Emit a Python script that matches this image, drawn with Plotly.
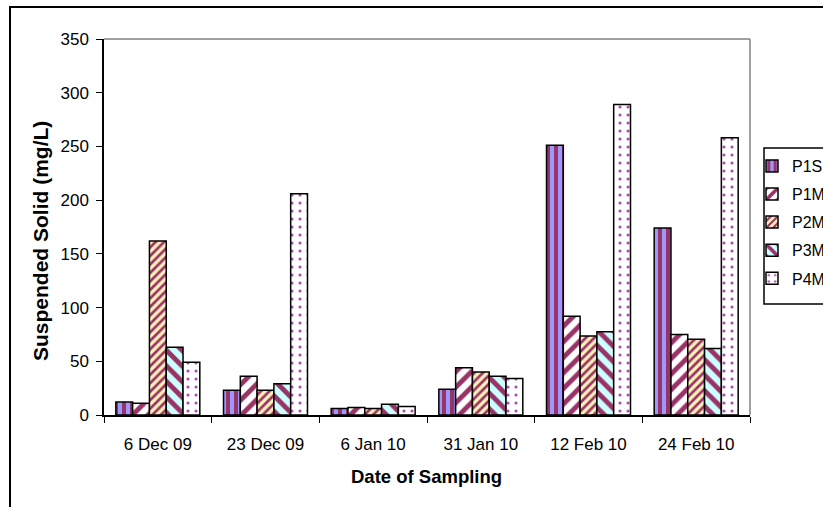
import plotly.graph_objects as go

# Sampling dates (categories) and suspended solid concentration per site (mg/L)
dates = ["6 Dec 09", "23 Dec 09", "6 Jan 10", "31 Jan 10", "12 Feb 10", "24 Feb 10"]
p1s = [12, 23, 6, 24, 251, 174]
p1m = [11, 36, 7, 44, 92, 75]
p2m = [162, 23, 6, 40, 73.5, 70.5]
p3m = [63, 29, 10, 36, 77.5, 62]
p4m = [49, 206, 8, 34, 289, 258]

series_names = ["P1S", "P1M", "P2M", "P3M", "P4M"]
series_values = [p1s, p1m, p2m, p3m, p4m]

MAROON = "#993366"
patterns = [
    dict(shape="|", fgcolor=MAROON, bgcolor="#9999FF", size=8, solidity=0.5, fillmode="replace"),
    dict(shape="/", fgcolor=MAROON, bgcolor="#FFFFFF", size=11, solidity=0.45, fillmode="replace"),
    dict(shape="/", fgcolor=MAROON, bgcolor="#FFF2B8", size=6, solidity=0.45, fillmode="replace"),
    dict(shape="\\", fgcolor=MAROON, bgcolor="#CCFFFF", size=11, solidity=0.45, fillmode="replace"),
    dict(shape=".", fgcolor="#B04CB0", bgcolor="#FFFFFF", size=8, solidity=0.12, fillmode="replace"),
]

fig = go.Figure()
for name, vals, pat in zip(series_names, series_values, patterns):
    fig.add_trace(go.Bar(
        x=dates, y=vals, name=name, legendgroup=name,
        marker=dict(color=pat["bgcolor"], pattern=pat,
                    line=dict(color="#000000", width=1.5)),
    ))

FONT = "Liberation Sans, Arial, sans-serif"
L, R, T, B = 104, 73, 39, 92
PW, PH = 823 - L - R, 507 - T - B


def px_x(x):
    return (x - L) / PW


def px_y(y):
    return (507 - B - y) / PH


fig.update_layout(
    width=823, height=507,
    margin=dict(l=L, r=R, t=T, b=B, autoexpand=False),
    paper_bgcolor="white", plot_bgcolor="white",
    barmode="group", bargap=0.22, bargroupgap=0,
    font=dict(family=FONT, size=17, color="black"),
    showlegend=True,
    legend=dict(
        x=px_x(752), y=px_y(149), xanchor="left", yanchor="top",
        borderwidth=0, bgcolor="rgba(0,0,0,0)",
        font=dict(family=FONT, size=16, color="black"),
        traceorder="grouped", tracegroupgap=4.3,
        itemwidth=30,
    ),
    xaxis=dict(
        showline=True, linecolor="black", linewidth=1.5,
        ticks="outside", tickson="boundaries", ticklen=6, tickcolor="black",
        showgrid=False, ticklabelstandoff=13,
        tickfont=dict(size=17),
    ),
    yaxis=dict(
        range=[0, 350], dtick=50,
        showline=True, linecolor="black", linewidth=1.5,
        ticks="outside", ticklen=6, tickcolor="black",
        showgrid=False, zeroline=False, ticklabelstandoff=4,
        tickfont=dict(size=17),
    ),
    annotations=[
        dict(text="<b>Date of Sampling</b>", xref="paper", yref="paper",
             x=px_x(426), y=px_y(477), xanchor="center", yanchor="middle",
             showarrow=False, font=dict(size=18.5)),
        dict(text="<b>Suspended Solid (mg/L)</b>", xref="paper", yref="paper",
             x=px_x(40), y=px_y(241), xanchor="center", yanchor="middle",
             textangle=-90, showarrow=False, font=dict(size=21)),
    ],
    shapes=[
        # grey frame on top and right of the plotting area
        dict(type="line", xref="paper", yref="paper", x0=0, x1=1, y0=1, y1=1,
             line=dict(color="#808080", width=1.5)),
        dict(type="line", xref="paper", yref="paper", x0=1, x1=1, y0=0, y1=1,
             line=dict(color="#808080", width=1.5)),
        # legend frame
        dict(type="rect", xref="paper", yref="paper",
             x0=px_x(764), x1=px_x(880), y0=px_y(304), y1=px_y(148),
             line=dict(color="black", width=1.5), fillcolor="white", layer="below"),
        # outer chart border
        dict(type="rect", xref="paper", yref="paper",
             x0=px_x(10), x1=px_x(900), y0=px_y(560), y1=px_y(7),
             line=dict(color="black", width=2), layer="below"),
    ],
)

fig.write_html("out.html")
